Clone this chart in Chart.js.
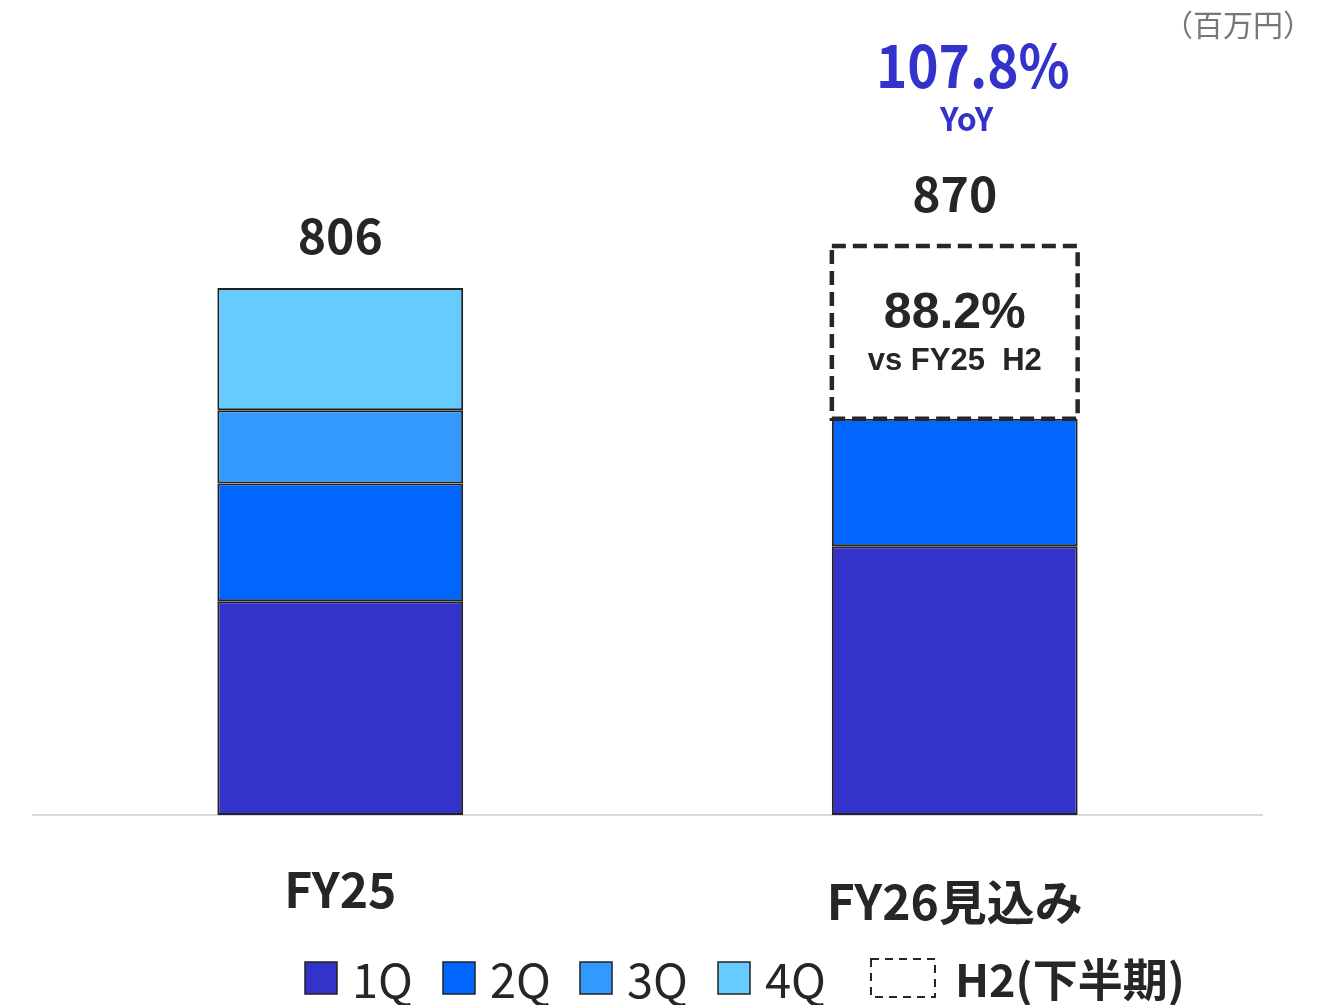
<!DOCTYPE html>
<html>
<head>
<meta charset="utf-8">
<script src="https://cdn.jsdelivr.net/npm/chart.js@4.4.1/dist/chart.umd.min.js"></script>
<style>
  html, body { margin: 0; padding: 0; background: #fff; }
  #wrap { width: 1338px; height: 1005px; position: relative; }
</style>
</head>
<body>
<div id="wrap"><canvas id="c" width="1338" height="1005"></canvas></div>
<script>
const categories = ['FY25', 'FY26見込み'];
const q1 = [327, 411];
const q2 = [180, 195];
const q3 = [112, null];
const q4 = [187, null];
const h2 = [null, 264];
const totals = [806, 870];
const yoyText = '107.8%';
const h2RatioText = '88.2%';

const FONT = '"Noto Sans CJK JP", "Noto Sans", sans-serif';
const ARIAL = '"Liberation Sans", Arial, sans-serif';
const DARK = '#262626';
const COLORS = { q1: '#3333CC', q2: '#0066FF', q3: '#3399FF', q4: '#66CCFF' };

const legendItems = [
  { label: '1Q', color: COLORS.q1, x: 305 },
  { label: '2Q', color: COLORS.q2, x: 443 },
  { label: '3Q', color: COLORS.q3, x: 580 },
  { label: '4Q', color: COLORS.q4, x: 718 },
];

function ds(label, data, color) {
  return {
    label,
    data,
    backgroundColor: color,
    borderColor: '#222',
    borderWidth: 2,
    borderSkipped: false,
    stack: 's',
  };
}

// Labels, dashed H2 box, legend
const annotate = {
  id: 'annotate',
  afterDatasetsDraw(chart) {
    const { ctx, scales } = chart;
    const x = scales.x, y = scales.y;
    ctx.save();
    ctx.textAlign = 'center';
    ctx.textBaseline = 'middle';

    // dashed H2 box from the H2 dataset's bar
    const h2Meta = chart.getDatasetMeta(4);
    h2Meta.data.forEach((bar, i) => {
      if (h2[i] == null) return;
      const p = bar.getProps(['x', 'y', 'base', 'width'], true);
      ctx.setLineDash([14, 7]);
      ctx.lineWidth = 4.5;
      ctx.strokeStyle = DARK;
      ctx.strokeRect(p.x - p.width / 2, p.y, p.width, p.base - p.y);
      ctx.setLineDash([]);
      const cy = (p.y + p.base) / 2;
      ctx.fillStyle = DARK;
      ctx.font = 'bold 50px ' + ARIAL;
      ctx.fillText(h2RatioText, p.x, cy - 18);
      ctx.font = 'bold 31px ' + ARIAL;
      ctx.fillText('vs FY25  H2', p.x, cy + 29);
    });

    // totals
    ctx.fillStyle = DARK;
    ctx.font = 'bold 48px ' + FONT;
    totals.forEach((t, i) => {
      ctx.fillText(String(t), x.getPixelForValue(i), y.getPixelForValue(t) - 52);
    });

    // YoY
    const cx = x.getPixelForValue(1);
    ctx.fillStyle = '#3333CC';
    ctx.save();
    ctx.translate(cx + 18, 66);
    ctx.scale(0.9, 1);
    ctx.font = 'bold 59px ' + FONT;
    ctx.fillText(yoyText, 0, 0);
    ctx.restore();
    ctx.font = 'bold 32px ' + FONT;
    ctx.fillText('YoY', cx + 12, 119);

    // unit
    ctx.fillStyle = '#777';
    ctx.font = '30px ' + FONT;
    ctx.fillText('（百万円）', 1238, 25);

    // category labels
    ctx.fillStyle = DARK;
    ctx.font = 'bold 48px ' + FONT;
    ctx.fillText(categories[0], x.getPixelForValue(0), 890);
    ctx.fillText(categories[1], x.getPixelForValue(1), 902);

    // legend
    const ly = 978;
    ctx.textAlign = 'left';
    legendItems.forEach((it) => {
      ctx.fillStyle = it.color;
      ctx.fillRect(it.x, ly - 16, 32, 32);
      ctx.strokeStyle = '#222';
      ctx.lineWidth = 1.5;
      ctx.strokeRect(it.x, ly - 16, 32, 32);
      ctx.fillStyle = DARK;
      ctx.font = '47px ' + FONT;
      ctx.fillText(it.label, it.x + 47, ly + 2);
    });
    ctx.setLineDash([8, 6]);
    ctx.lineWidth = 2;
    ctx.strokeStyle = DARK;
    ctx.strokeRect(871, ly - 19, 64, 38);
    ctx.setLineDash([]);
    ctx.fillStyle = DARK;
    ctx.font = 'bold 45px ' + FONT;
    ctx.fillText('H2(下半期)', 955, ly + 2);
    ctx.restore();
  },
};

new Chart(document.getElementById('c'), {
  type: 'bar',
  data: {
    labels: categories,
    datasets: [
      ds('1Q', q1, COLORS.q1),
      ds('2Q', q2, COLORS.q2),
      ds('3Q', q3, COLORS.q3),
      ds('4Q', q4, COLORS.q4),
      { label: 'H2', data: h2, backgroundColor: 'rgba(0,0,0,0)', borderWidth: 0, stack: 's' },
    ],
  },
  options: {
    responsive: false,
    animation: false,
    layout: { padding: { top: 161, bottom: 190, left: 33, right: 76 } },
    datasets: { bar: { categoryPercentage: 1, barPercentage: 0.4 } },
    plugins: { legend: { display: false }, tooltip: { enabled: false } },
    scales: {
      x: {
        stacked: true,
        ticks: { display: false },
        grid: { display: false, drawTicks: false },
        border: { display: true, color: '#d9d9d9', width: 2 },
      },
      y: {
        stacked: true,
        min: 0,
        max: 1000,
        display: false,
      },
    },
  },
  plugins: [annotate],
});
</script>
</body>
</html>
